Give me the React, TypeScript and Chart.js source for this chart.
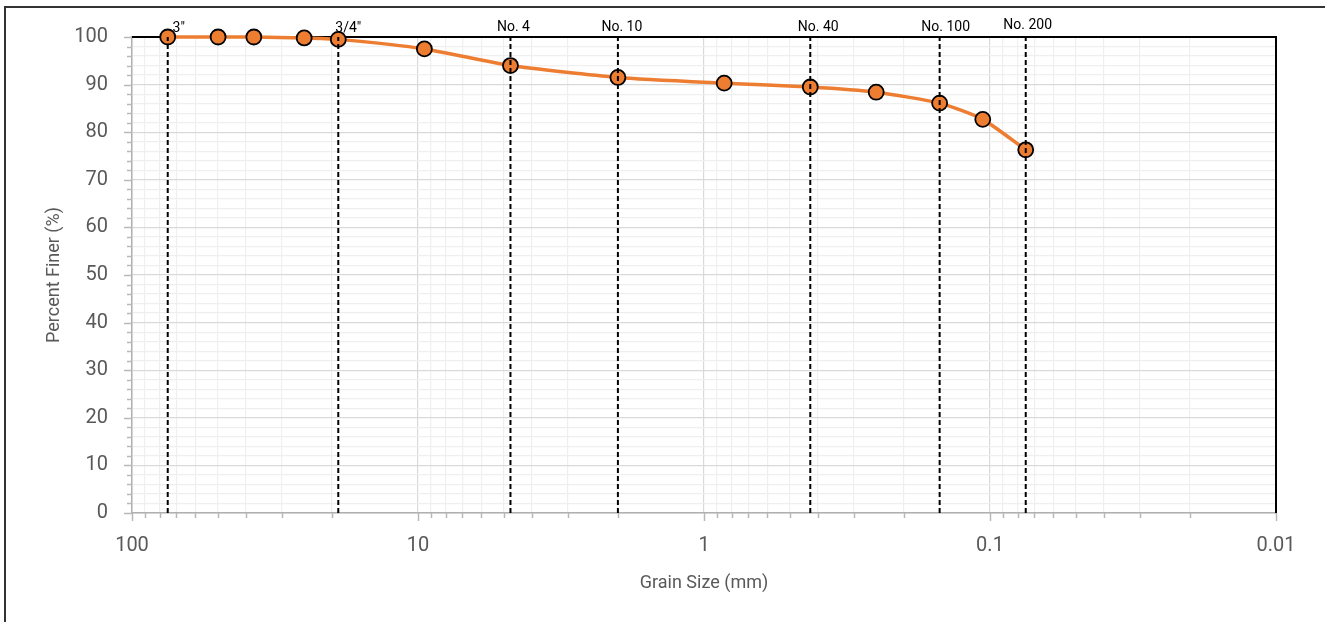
import { useEffect, useRef } from 'react';
import { Chart, registerables } from 'chart.js';

Chart.register(...registerables);

// ---- data ----
const grainSizes = [75, 50, 37.5, 25, 19, 9.5, 4.75, 2.0, 0.85, 0.425, 0.25, 0.15, 0.106, 0.075];
const percentFiner = [100, 100, 100, 99.8, 99.5, 97.5, 94.0, 91.5, 90.3, 89.5, 88.4, 86.1, 82.7, 76.3];
const sieveSizes = [75, 19, 4.75, 2.0, 0.425, 0.15, 0.075];
const sieveNames = ['3"', '3/4"', 'No. 4', 'No. 10', 'No. 40', 'No. 100', 'No. 200'];
const xDecades = [100, 10, 1, 0.1, 0.01];
const xTickLabels = ['100', '10', '1', '0.1', '0.01'];
const yMajorTicks = [0, 10, 20, 30, 40, 50, 60, 70, 80, 90, 100];
const yMinorStep = 2;
const xTitle = 'Grain Size (mm)';
const yTitle = 'Percent Finer (%)';

// ---- style ----
const FONT = 'Roboto';
const sieveLabelDx = [11, 10, 3, 4, 8, 6, 2];
const sieveLabelBaseline = [32, 32, 31, 31, 31, 31, 29];
const PLOT_LEFT = 132;
const PLOT_TOP = 37;
const PLOT_RIGHT = 1276;
const PLOT_BOTTOM = 513;
const W = 1325;
const H = 622;

const isMajorX = (v: number) => xDecades.some((d) => Math.abs(v / d - 1) < 1e-6);

export default function App() {
  const ref = useRef<HTMLCanvasElement | null>(null);

  useEffect(() => {
    if (!ref.current) return;

    const xTickValues: number[] = [];
    xDecades.forEach((d) => {
      if (d === Math.max(...xDecades)) { xTickValues.push(d); return; }
      for (let m = 1; m <= 9; m++) xTickValues.push(d * m);
    });

    const framePlugin = {
      id: 'framePlugin',
      beforeDatasetsDraw(chart: any) {
        const { ctx, chartArea: a, scales } = chart;
        const xs = scales.x;
        const ys = scales.y;
        ctx.save();
        ctx.strokeStyle = '#b8b8b8';
        ctx.lineWidth = 1.5;
        for (let v = 0; v <= 100; v += yMinorStep) {
          const py = Math.round(ys.getPixelForValue(v)) + 0.5;
          const len = yMajorTicks.includes(v) ? 8 : 5;
          ctx.beginPath();
          ctx.moveTo(a.left - len, py);
          ctx.lineTo(a.left, py);
          ctx.stroke();
        }
        xTickValues.forEach((v) => {
          const px = Math.round(xs.getPixelForValue(v)) + 0.5;
          const len = isMajorX(v) ? 8 : 5;
          ctx.beginPath();
          ctx.moveTo(px, a.bottom);
          ctx.lineTo(px, a.bottom + len);
          ctx.stroke();
        });
        ctx.strokeStyle = '#000';
        ctx.lineWidth = 2;
        ctx.beginPath();
        ctx.moveTo(a.left, a.top);
        ctx.lineTo(a.right, a.top);
        ctx.lineTo(a.right, a.bottom);
        ctx.stroke();
        ctx.restore();
      },
      afterDraw(chart: any) {
        const { ctx, scales } = chart;
        ctx.save();
        ctx.font = `14px ${FONT}`;
        ctx.fillStyle = '#000';
        ctx.textAlign = 'center';
        ctx.textBaseline = 'alphabetic';
        sieveSizes.forEach((s, i) => {
          const px = scales.x.getPixelForValue(s);
          ctx.fillText(sieveNames[i], px + sieveLabelDx[i], sieveLabelBaseline[i]);
        });
        ctx.restore();
      },
    };

    const sieveDatasets = sieveSizes.map((s, i) => ({
      label: sieveNames[i],
      data: [{ x: s, y: 0 }, { x: s, y: 100 }],
      borderColor: '#000',
      borderWidth: 2,
      borderDash: [5, 3],
      pointRadius: 0,
      fill: false,
      order: 1,
    }));

    const chart = new Chart(ref.current, {
      type: 'line',
      data: {
        datasets: [
          {
            label: 'Percent Finer',
            data: grainSizes.map((g, i) => ({ x: g, y: percentFiner[i] })),
            borderColor: '#ED7D31',
            borderWidth: 3.5,
            backgroundColor: '#ED7D31',
            pointRadius: 7.5,
            pointBackgroundColor: '#ED7D31',
            pointBorderColor: '#000',
            pointBorderWidth: 1.8,
            tension: 0.2,
            fill: false,
            clip: false as any,
            order: 2,
          },
          ...sieveDatasets,
        ] as any,
      },
      options: {
        responsive: false,
        animation: false,
        events: [],
        layout: { padding: { top: PLOT_TOP, right: W - PLOT_RIGHT, left: 0, bottom: 0 } },
        plugins: { legend: { display: false }, tooltip: { enabled: false } },
        scales: {
          x: {
            type: 'logarithmic',
            reverse: true,
            min: 0.01,
            max: 100,
            afterFit(s: any) { s.height = H - PLOT_BOTTOM; },
            afterBuildTicks(s: any) { s.ticks = xTickValues.map((v) => ({ value: v })); },
            ticks: {
              autoSkip: false,
              maxRotation: 0,
              padding: 21,
              color: '#595959',
              font: { family: FONT, size: 20 },
              callback: (v: any) => {
                const idx = xDecades.findIndex((d) => Math.abs(Number(v) / d - 1) < 1e-6);
                return idx >= 0 ? xTickLabels[idx] : '';
              },
            },
            grid: {
              drawTicks: false,
              color: (c: any) => (c.tick && isMajorX(c.tick.value) ? '#d9d9d9' : '#efefef'),
              lineWidth: 1.2,
            },
            border: { color: '#b0b0b0', width: 1.5 },
            title: {
              display: true,
              text: xTitle,
              color: '#595959',
              font: { family: FONT, size: 18 },
              padding: { top: 0, bottom: 28 },
            },
          },
          y: {
            type: 'linear',
            min: 0,
            max: 100,
            afterFit(s: any) { s.width = PLOT_LEFT; },
            ticks: {
              stepSize: yMinorStep,
              autoSkip: false,
              padding: 24,
              color: '#595959',
              font: { family: FONT, size: 20 },
              callback: (v: any) => (yMajorTicks.includes(Number(v)) ? String(v) : ''),
            },
            grid: {
              drawTicks: false,
              color: (c: any) => (c.tick && yMajorTicks.includes(c.tick.value) ? '#d9d9d9' : '#efefef'),
              lineWidth: 1.2,
            },
            border: { color: '#b0b0b0', width: 1.5 },
            title: {
              display: true,
              text: yTitle,
              color: '#595959',
              font: { family: FONT, size: 18 },
              padding: { top: 44, bottom: 0 },
            },
          },
        },
      } as any,
      plugins: [framePlugin],
    });

    return () => chart.destroy();
  }, []);

  return (
    <div style={{ position: 'absolute', left: 0, top: 0, width: W, height: H, overflow: 'hidden', background: '#fff' }}>
      <div
        style={{
          position: 'absolute',
          left: 4,
          top: 6,
          width: 1500,
          height: 800,
          border: '2px solid #333',
          boxSizing: 'border-box',
        }}
      />
      <canvas ref={ref} width={W} height={H} style={{ position: 'absolute', left: 0, top: 0, width: W, height: H }} />
    </div>
  );
}
